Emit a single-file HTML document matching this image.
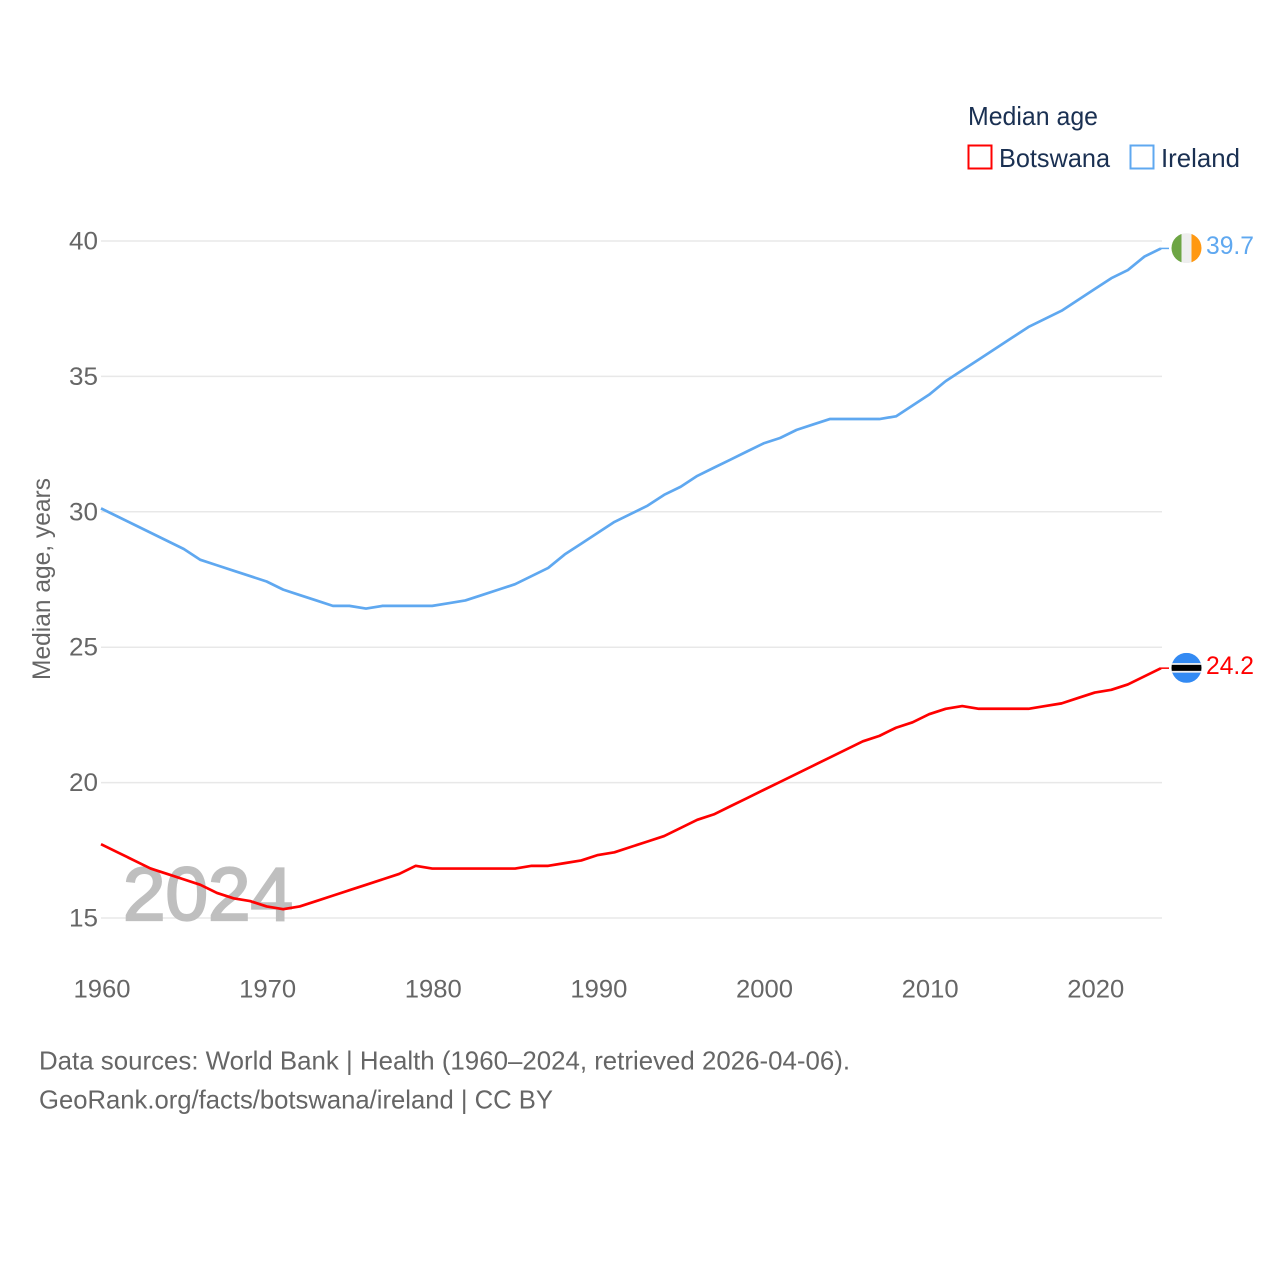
<!DOCTYPE html>
<html lang="en">
<head>
<meta charset="utf-8">
<title>Median age: Botswana and Ireland</title>
<style>
  html, body { margin: 0; padding: 0; background: #fff; }
  svg { display: block; font-family: "Liberation Sans", "DejaVu Sans", sans-serif; }
</style>
</head>
<body>
<svg id="chart" xmlns="http://www.w3.org/2000/svg" width="1280" height="1280" viewBox="0 0 1280 1280">
  <rect x="0" y="0" width="1280" height="1280" fill="#ffffff"/>
  <g id="grid"></g>
  <text x="123" y="920" font-size="75" fill="#bfbfbf" stroke="#bfbfbf" stroke-width="2.2" textLength="170" lengthAdjust="spacingAndGlyphs">2024</text>
  <g id="y-ticks"></g>
  <g id="x-ticks"></g>
  <text transform="translate(50,680) rotate(-90)" font-size="25" fill="#666666" textLength="202" lengthAdjust="spacingAndGlyphs">Median age, years</text>
  <g id="series" transform="translate(-1,-0.7)"></g>

  <defs>
    <clipPath id="flag-clip-ie"><circle cx="0" cy="0" r="15"/></clipPath>
    <clipPath id="flag-clip-bw"><circle cx="0" cy="0" r="15"/></clipPath>
  </defs>
  <g id="flag-ireland" clip-path="url(#flag-clip-ie)">
    <rect x="-15" y="-15" width="10" height="30" fill="#6da544"/>
    <rect x="-5" y="-15" width="10" height="30" fill="#eeeeee"/>
    <rect x="5" y="-15" width="10" height="30" fill="#ff9811"/>
  </g>
  <g id="flag-botswana" clip-path="url(#flag-clip-bw)">
    <rect x="-15" y="-15" width="30" height="30" fill="#338af3"/>
    <rect x="-15" y="-4.8" width="30" height="9.6" fill="#eeeeee"/>
    <rect x="-15" y="-3" width="30" height="6" fill="#000000"/>
  </g>
  <text id="label-ireland" x="1206" font-size="25" fill="#5fa8f0" textLength="48" lengthAdjust="spacingAndGlyphs"></text>
  <text id="label-botswana" x="1206" font-size="25" fill="#ff0000" textLength="48" lengthAdjust="spacingAndGlyphs"></text>

  <g>
    <text x="968" y="125" font-size="26" fill="#1a3052" textLength="130" lengthAdjust="spacingAndGlyphs">Median age</text>
    <g>
      <rect x="968.5" y="145.5" width="23" height="23" fill="none" stroke="#ff0000" stroke-width="2"/>
      <text x="999" y="167" font-size="26" fill="#1a3052" textLength="111" lengthAdjust="spacingAndGlyphs">Botswana</text>
    </g>
    <g>
      <rect x="1130.5" y="145.5" width="23" height="23" fill="none" stroke="#5fa8f0" stroke-width="2"/>
      <text x="1161" y="167" font-size="26" fill="#1a3052" textLength="79" lengthAdjust="spacingAndGlyphs">Ireland</text>
    </g>
  </g>

  <text x="39" y="1069.5" font-size="26" fill="#666666" textLength="811" lengthAdjust="spacingAndGlyphs">Data sources: World Bank | Health (1960–2024, retrieved 2026-04-06).</text>
  <text x="39" y="1108.5" font-size="26" fill="#666666" textLength="514" lengthAdjust="spacingAndGlyphs">GeoRank.org/facts/botswana/ireland | CC BY</text>
</svg>
<script>
const years = [1960,1961,1962,1963,1964,1965,1966,1967,1968,1969,1970,1971,1972,1973,1974,1975,1976,1977,1978,1979,1980,1981,1982,1983,1984,1985,1986,1987,1988,1989,1990,1991,1992,1993,1994,1995,1996,1997,1998,1999,2000,2001,2002,2003,2004,2005,2006,2007,2008,2009,2010,2011,2012,2013,2014,2015,2016,2017,2018,2019,2020,2021,2022,2023,2024];
const irelandValues = [30.1,29.8,29.5,29.2,28.9,28.6,28.2,28.0,27.8,27.6,27.4,27.1,26.9,26.7,26.5,26.5,26.4,26.5,26.5,26.5,26.5,26.6,26.7,26.9,27.1,27.3,27.6,27.9,28.4,28.8,29.2,29.6,29.9,30.2,30.6,30.9,31.3,31.6,31.9,32.2,32.5,32.7,33.0,33.2,33.4,33.4,33.4,33.4,33.5,33.9,34.3,34.8,35.2,35.6,36.0,36.4,36.8,37.1,37.4,37.8,38.2,38.6,38.9,39.4,39.7];
const botswanaValues = [17.7,17.4,17.1,16.8,16.6,16.4,16.2,15.9,15.7,15.6,15.4,15.3,15.4,15.6,15.8,16.0,16.2,16.4,16.6,16.9,16.8,16.8,16.8,16.8,16.8,16.8,16.9,16.9,17.0,17.1,17.3,17.4,17.6,17.8,18.0,18.3,18.6,18.8,19.1,19.4,19.7,20.0,20.3,20.6,20.9,21.2,21.5,21.7,22.0,22.2,22.5,22.7,22.8,22.7,22.7,22.7,22.7,22.8,22.9,23.1,23.3,23.4,23.6,23.9,24.2];
const yTickValues = [15,20,25,30,35,40];
const xTickValues = [1960,1970,1980,1990,2000,2010,2020];

const NS = 'http://www.w3.org/2000/svg';
const plotLeft = 102, plotRight = 1162, plotTop = 241, plotBottom = 918;
function x(year) { return plotLeft + (year - 1960) / (2024 - 1960) * (plotRight - plotLeft); }
function y(value) { return plotBottom - (value - 15) / (40 - 15) * (plotBottom - plotTop); }
function make(tag, parentId) {
  const el = document.createElementNS(NS, tag);
  document.getElementById(parentId).appendChild(el);
  return el;
}

yTickValues.forEach(function (v) {
  const line = make('line', 'grid');
  
  
  line.setAttribute('x1', plotLeft - 1);
  line.setAttribute('x2', plotRight);
  line.setAttribute('y1', y(v));
  line.setAttribute('y2', y(v));
  line.setAttribute('stroke', '#e8e8e8');
  line.setAttribute('stroke-width', '1.5');

  const label = make('text', 'y-ticks');
  
  
  label.setAttribute('x', 98);
  label.setAttribute('y', y(v) + 8.5);
  label.setAttribute('text-anchor', 'end');
  label.setAttribute('font-size', '25');
  label.setAttribute('fill', '#666666');
  label.setAttribute('textLength', '29');
  label.setAttribute('lengthAdjust', 'spacingAndGlyphs');
  label.textContent = v;
});

xTickValues.forEach(function (v) {
  const label = make('text', 'x-ticks');
  
  
  label.setAttribute('x', x(v));
  label.setAttribute('y', 997.5);
  label.setAttribute('text-anchor', 'middle');
  label.setAttribute('font-size', '25');
  label.setAttribute('fill', '#666666');
  label.setAttribute('textLength', '57');
  label.setAttribute('lengthAdjust', 'spacingAndGlyphs');
  label.textContent = v;
});

function pointsFor(values) {
  return values.map(function (v, i) { return x(years[i]).toFixed(2) + ',' + y(v).toFixed(2); }).join(' ');
}

const irelandLine = make('polyline', 'series');


irelandLine.setAttribute('points', pointsFor(irelandValues));
irelandLine.setAttribute('fill', 'none');
irelandLine.setAttribute('stroke', '#5fa8f0');
irelandLine.setAttribute('stroke-width', '2.7');
irelandLine.setAttribute('stroke-linejoin', 'round');

const botswanaLine = make('polyline', 'series');


botswanaLine.setAttribute('points', pointsFor(botswanaValues));
botswanaLine.setAttribute('fill', 'none');
botswanaLine.setAttribute('stroke', '#ff0000');
botswanaLine.setAttribute('stroke-width', '2.7');
botswanaLine.setAttribute('stroke-linejoin', 'round');

const lastIreland = irelandValues[irelandValues.length - 1];
const lastBotswana = botswanaValues[botswanaValues.length - 1];

const irelandConnector = make('line', 'series');


irelandConnector.setAttribute('x1', plotRight);
irelandConnector.setAttribute('x2', 1170);
irelandConnector.setAttribute('y1', y(lastIreland));
irelandConnector.setAttribute('y2', y(lastIreland));
irelandConnector.setAttribute('stroke', '#5fa8f0');
irelandConnector.setAttribute('stroke-width', '1.5');

const botswanaConnector = make('line', 'series');


botswanaConnector.setAttribute('x1', plotRight);
botswanaConnector.setAttribute('x2', 1170);
botswanaConnector.setAttribute('y1', y(lastBotswana));
botswanaConnector.setAttribute('y2', y(lastBotswana));
botswanaConnector.setAttribute('stroke', '#ff0000');
botswanaConnector.setAttribute('stroke-width', '1.5');

document.getElementById('flag-ireland').setAttribute('transform', 'translate(1186.5,' + (y(lastIreland) - 1) + ')');
document.getElementById('flag-botswana').setAttribute('transform', 'translate(1186.5,' + (y(lastBotswana) - 1) + ')');

const irelandLabel = document.getElementById('label-ireland');
irelandLabel.setAttribute('y', y(lastIreland) + 5);
irelandLabel.textContent = lastIreland.toFixed(1);
const botswanaLabel = document.getElementById('label-botswana');
botswanaLabel.setAttribute('y', y(lastBotswana) + 5);
botswanaLabel.textContent = lastBotswana.toFixed(1);
</script>
</body>
</html>
